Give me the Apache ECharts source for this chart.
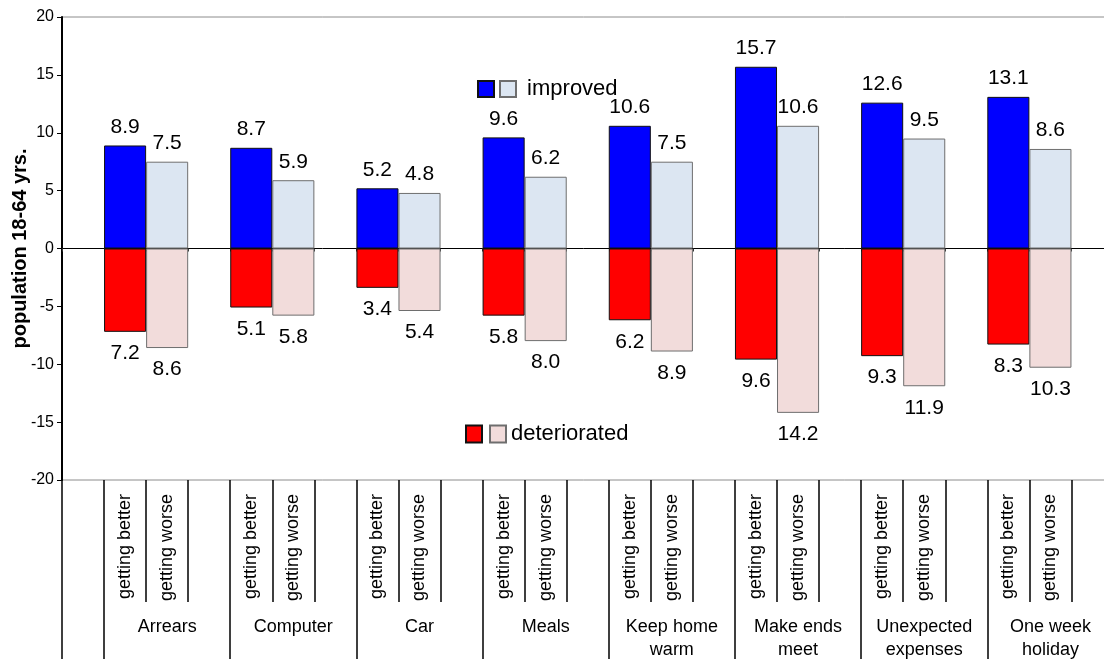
<!DOCTYPE html>
<html>
<head>
<meta charset="utf-8">
<title>Household situation: getting better vs getting worse</title>
<script src="https://cdn.jsdelivr.net/npm/echarts@6/dist/echarts.min.js"></script>
<style>
  html, body { margin: 0; padding: 0; background: #ffffff; }
  #chart { width: 1104px; height: 659px; }
</style>
</head>
<body>
<div id="chart"></div>
<script>
// Item groups along the category axis
const groups = ['Arrears', 'Computer', 'Car', 'Meals', 'Keep home\nwarm',
                'Make ends\nmeet', 'Unexpected\nexpenses', 'One week\nholiday'];
const subLabels = ['getting better', 'getting worse'];

// Share of population 18-64 yrs. that improved (positive bars)
const improvedBetter = [8.9, 8.7, 5.2, 9.6, 10.6, 15.7, 12.6, 13.1];
const improvedWorse  = [7.5, 5.9, 4.8, 6.2, 7.5, 10.6, 9.5, 8.6];

// Share that deteriorated (drawn below zero)
const deterioratedBetter = [7.2, 5.1, 3.4, 5.8, 6.2, 9.6, 9.3, 8.3];
const deterioratedWorse  = [8.6, 5.8, 5.4, 8.0, 8.9, 14.2, 11.9, 10.3];

// Y axis scale
const yMin = -20, yMax = 20, yStep = 5;

// Slot layout: one leading empty slot, then per group [better, worse, spacer]
const slotCats = [''];
const groupCats = [''];
groups.forEach(function (g) {
  slotCats.push(subLabels[0], subLabels[1], '');
  groupCats.push('', g, '');
});

function spread(values, offset, sign) {
  const out = slotCats.map(function () { return '-'; });
  values.forEach(function (v, i) { out[1 + i * 3 + offset] = sign * v; });
  return out;
}

const FONT = 'Liberation Sans, Arial, Helvetica, sans-serif';

function valueLabel(pos, dist) {
  return {
    show: true,
    position: pos,
    distance: dist,
    fontSize: 21,
    color: '#000',
    fontFamily: FONT,
    formatter: function (p) { return Math.abs(p.value).toFixed(1); }
  };
}

const chart = echarts.init(document.getElementById('chart'), null, { renderer: 'canvas' });

chart.setOption({
  animation: false,
  backgroundColor: '#ffffff',
  textStyle: { fontFamily: FONT, color: '#000' },
  grid: {
    left: 62, top: 17, width: 1051.5, height: 463,
    outerBoundsMode: 'none',
    containLabel: false,
    show: true, borderColor: '#8c8c8c', borderWidth: 1, backgroundColor: 'transparent'
  },
  legend: [
    {
      left: 477, top: 78, padding: 0,
      orient: 'horizontal',
      itemWidth: 16, itemHeight: 16, itemGap: 4,
      icon: 'rect',
      data: ['improved: getting better', 'improved: getting worse'],
      formatter: function (name) { return name === 'improved: getting worse' ? ' improved' : ''; },
      textStyle: { fontSize: 22, color: '#000', fontFamily: FONT },
      selectedMode: false
    },
    {
      left: 465, top: 423, padding: 0,
      orient: 'horizontal',
      itemWidth: 16, itemHeight: 17, itemGap: 6,
      icon: 'rect',
      data: ['deteriorated: getting better', 'deteriorated: getting worse'],
      formatter: function (name) { return name === 'deteriorated: getting worse' ? 'deteriorated' : ''; },
      textStyle: { fontSize: 22, color: '#000', fontFamily: FONT },
      selectedMode: false
    }
  ],
  xAxis: [
    {
      // sub-category labels and short separators
      type: 'category',
      data: slotCats,
      position: 'bottom',
      boundaryGap: true,
      axisLine: { show: false, onZero: false },
      axisTick: { show: true, interval: 0, length: 122, lineStyle: { color: '#000', width: 1.5 } },
      axisLabel: { interval: 0, rotate: 90, fontSize: 18, margin: 14, color: '#000', fontFamily: FONT },
      splitLine: { show: false }
    },
    {
      // group names and long separators
      type: 'category',
      data: groupCats,
      position: 'bottom',
      boundaryGap: true,
      axisLine: { show: false, onZero: false },
      axisTick: {
        show: true,
        interval: function (i) { return i === 0 || i % 3 === 1; },
        length: 185,
        lineStyle: { color: '#000', width: 1.5 }
      },
      axisLabel: {
        interval: 0, fontSize: 18, lineHeight: 23, margin: 136,
        color: '#000', fontFamily: FONT
      },
      splitLine: { show: false }
    },
    {
      // zero line
      type: 'category',
      data: slotCats,
      position: 'bottom',
      boundaryGap: true,
      axisLine: { show: true, onZero: true, lineStyle: { color: '#000', width: 1 } },
      axisTick: { show: true, interval: 0, length: 3, lineStyle: { color: '#333', width: 1 } },
      axisLabel: { show: false },
      splitLine: { show: false }
    }
  ],
  yAxis: {
    type: 'value',
    min: yMin, max: yMax, interval: yStep,
    name: 'population 18-64 yrs.',
    nameLocation: 'middle',
    nameRotate: 90,
    nameGap: 32,
    nameMoveOverlap: false,
    nameTextStyle: { fontSize: 20, fontWeight: 'bold', color: '#000', fontFamily: FONT },
    axisLine: { show: true, lineStyle: { color: '#000', width: 2 } },
    axisTick: { show: true, length: 5, lineStyle: { color: '#000', width: 1 } },
    axisLabel: { fontSize: 16, color: '#000', margin: 8, fontFamily: FONT },
    splitLine: { show: false }
  },
  series: [
    {
      name: 'improved: getting better',
      type: 'bar', stack: 'all', xAxisIndex: 0,
      barCategoryGap: '0%',
      data: spread(improvedBetter, 0, 1),
      itemStyle: { color: '#0000ff', borderColor: '#111', borderWidth: 1 },
      label: valueLabel('top', 8)
    },
    {
      name: 'improved: getting worse',
      type: 'bar', stack: 'all', xAxisIndex: 0,
      data: spread(improvedWorse, 1, 1),
      itemStyle: { color: '#dce6f2', borderColor: '#6e6e6e', borderWidth: 1 },
      label: valueLabel('top', 8)
    },
    {
      name: 'deteriorated: getting better',
      type: 'bar', stack: 'all', xAxisIndex: 0,
      data: spread(deterioratedBetter, 0, -1),
      itemStyle: { color: '#ff0000', borderColor: '#111', borderWidth: 1 },
      label: valueLabel('bottom', 11)
    },
    {
      name: 'deteriorated: getting worse',
      type: 'bar', stack: 'all', xAxisIndex: 0,
      data: spread(deterioratedWorse, 1, -1),
      itemStyle: { color: '#f2dcdb', borderColor: '#6e6e6e', borderWidth: 1 },
      label: valueLabel('bottom', 11)
    }
  ]
});
</script>
</body>
</html>
